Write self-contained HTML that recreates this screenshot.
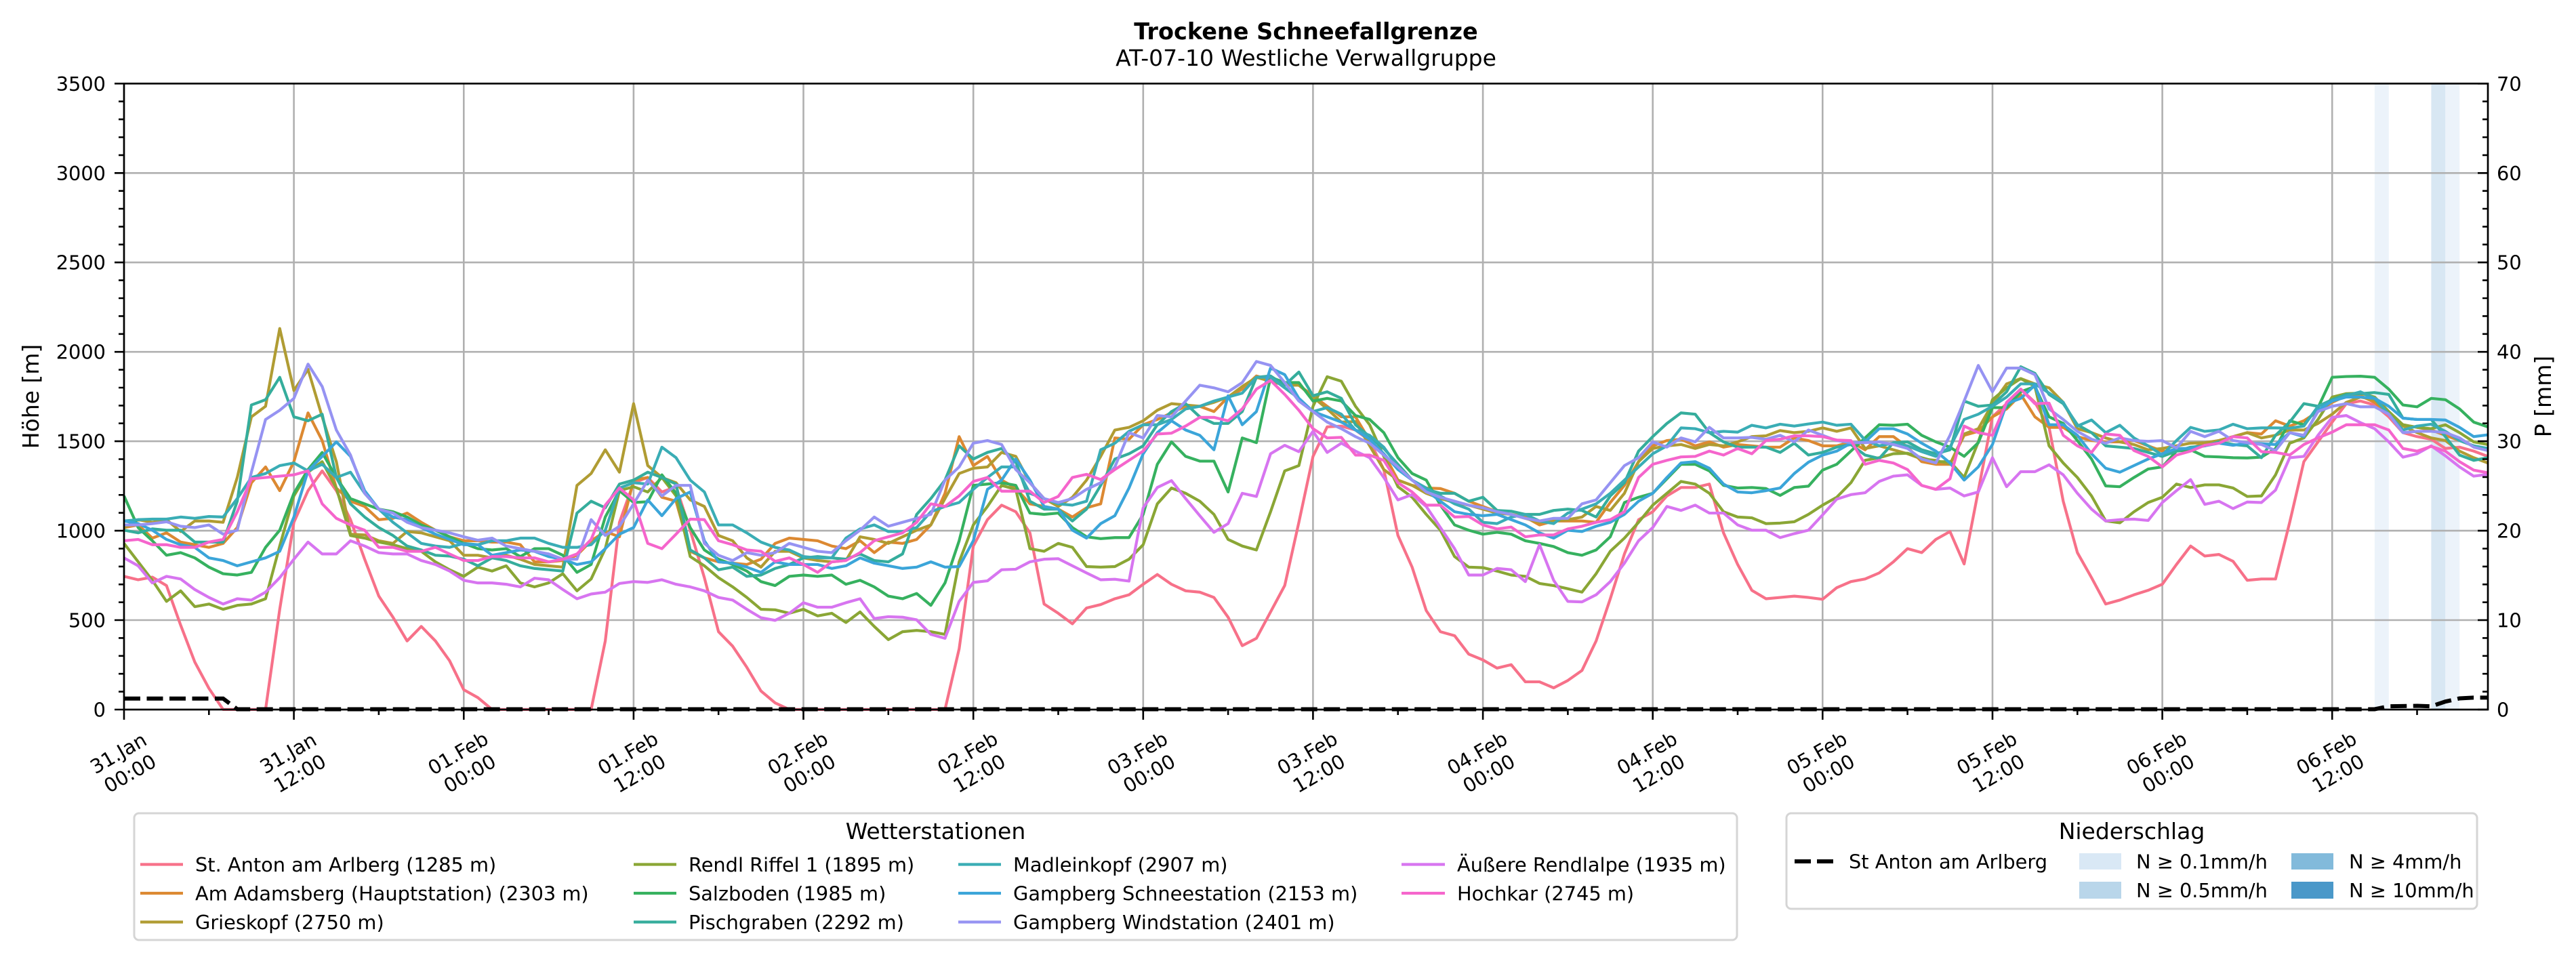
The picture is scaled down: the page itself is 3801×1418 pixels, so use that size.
<!DOCTYPE html>
<html><head><meta charset="utf-8"><style>
html,body{margin:0;padding:0;background:#fff;}
svg{display:block;font-family:"DejaVu Sans","Liberation Sans",sans-serif;}
</style></head><body>
<svg id="chart" xmlns="http://www.w3.org/2000/svg" width="3801" height="1418" viewBox="0 0 3801 1418">
<rect x="0" y="0" width="3801" height="1418" fill="#fff"/>
<!-- title -->
<text x="1927" y="58" text-anchor="middle" font-size="33.5" font-weight="bold">Trockene Schneefallgrenze</text>
<text x="1927" y="97" text-anchor="middle" font-size="33">AT-07-10 Westliche Verwallgruppe</text>

<!-- precipitation bands -->
<rect x="3503.9" y="123.3" width="20.9" height="923.7" fill="#ecf3fa"/>
<rect x="3587.4" y="123.3" width="20.9" height="923.7" fill="#d8e7f3"/>
<rect x="3608.3" y="123.3" width="20.9" height="923.7" fill="#ecf3fa"/>

<!-- grid -->
<g stroke="#b0b0b0" stroke-width="2.6" fill="none">
<path d="M183,915H3671 M183,783.1H3671 M183,651.1H3671 M183,519.2H3671 M183,387.2H3671 M183,255.3H3671"/>
<path d="M433.6,123.3V1047 M684.3,123.3V1047 M934.9,123.3V1047 M1185.5,123.3V1047 M1436.2,123.3V1047 M1686.8,123.3V1047 M1937.4,123.3V1047 M2188.1,123.3V1047 M2438.7,123.3V1047 M2689.3,123.3V1047 M2940,123.3V1047 M3190.6,123.3V1047 M3441.2,123.3V1047"/>
</g>

<g id="lines"></g>

<!-- precipitation dashed line -->
<polyline points="183,1030.7 329.2,1030.7 350.1,1046.5 3503.9,1046.5 3524.8,1042.2 3566.6,1041.5 3587.4,1042.2 3608.3,1035.2 3629.2,1030.5 3650,1029.4 3671,1029.4" fill="none" stroke="#000" stroke-width="6" stroke-dasharray="24 9.5"/>

<!-- spines -->
<rect x="183" y="123.3" width="3488" height="923.7" fill="none" stroke="#000" stroke-width="2.7"/>

<!-- ticks -->
<g stroke="#000" stroke-width="2.6" fill="none">
<path d="M169,1047H183 M169,915H183 M169,783.1H183 M169,651.1H183 M169,519.2H183 M169,387.2H183 M169,255.3H183 M169,123.3H183"/>
<path d="M175,1020.6H183 M175,994.2H183 M175,967.8H183 M175,941.4H183 M175,888.7H183 M175,862.3H183 M175,835.9H183 M175,809.5H183 M175,756.7H183 M175,730.3H183 M175,703.9H183 M175,677.5H183 M175,624.7H183 M175,598.4H183 M175,572H183 M175,545.6H183 M175,492.8H183 M175,466.4H183 M175,440H183 M175,413.6H183 M175,360.8H183 M175,334.4H183 M175,308H183 M175,281.7H183 M175,228.9H183 M175,202.5H183 M175,176.1H183 M175,149.7H183"/>
<path d="M3656,1047H3671 M3656,915H3671 M3656,783.1H3671 M3656,651.1H3671 M3656,519.2H3671 M3656,387.2H3671 M3656,255.3H3671 M3656,123.3H3671"/>
<path d="M3663,1020.6H3671 M3663,994.2H3671 M3663,967.8H3671 M3663,941.4H3671 M3663,888.7H3671 M3663,862.3H3671 M3663,835.9H3671 M3663,809.5H3671 M3663,756.7H3671 M3663,730.3H3671 M3663,703.9H3671 M3663,677.5H3671 M3663,624.7H3671 M3663,598.4H3671 M3663,572H3671 M3663,545.6H3671 M3663,492.8H3671 M3663,466.4H3671 M3663,440H3671 M3663,413.6H3671 M3663,360.8H3671 M3663,334.4H3671 M3663,308H3671 M3663,281.7H3671 M3663,228.9H3671 M3663,202.5H3671 M3663,176.1H3671 M3663,149.7H3671"/>
<path d="M183,1047V1062 M433.6,1047V1062 M684.3,1047V1062 M934.9,1047V1062 M1185.5,1047V1062 M1436.2,1047V1062 M1686.8,1047V1062 M1937.4,1047V1062 M2188.1,1047V1062 M2438.7,1047V1062 M2689.3,1047V1062 M2940,1047V1062 M3190.6,1047V1062 M3441.2,1047V1062"/>
<path d="M308.3,1047V1055 M558.9,1047V1055 M809.6,1047V1055 M1060.2,1047V1055 M1310.8,1047V1055 M1561.5,1047V1055 M1812.1,1047V1055 M2062.7,1047V1055 M2313.4,1047V1055 M2564,1047V1055 M2814.6,1047V1055 M3065.3,1047V1055 M3315.9,1047V1055 M3566.5,1047V1055"/>
</g>

<!-- y tick labels -->
<g font-size="28.8" text-anchor="end">
<text x="156" y="1057.5">0</text>
<text x="156" y="925.5">500</text>
<text x="156" y="793.6">1000</text>
<text x="156" y="661.6">1500</text>
<text x="156" y="529.7">2000</text>
<text x="156" y="397.7">2500</text>
<text x="156" y="265.8">3000</text>
<text x="156" y="133.8">3500</text>
</g>
<g font-size="28.8" text-anchor="start">
<text x="3684" y="1057.5">0</text>
<text x="3684" y="925.5">10</text>
<text x="3684" y="793.6">20</text>
<text x="3684" y="661.6">30</text>
<text x="3684" y="529.7">40</text>
<text x="3684" y="397.7">50</text>
<text x="3684" y="265.8">60</text>
<text x="3684" y="133.8">70</text>
</g>

<!-- axis labels -->
<text transform="translate(57,585) rotate(-90)" text-anchor="middle" font-size="33">Höhe [m]</text>
<text transform="translate(3764,585) rotate(-90)" text-anchor="middle" font-size="33">P [mm]</text>

<!-- x tick labels -->
<g font-size="28.8" text-anchor="middle">
<text transform="translate(183,1126) rotate(-30)"><tspan x="0" y="-6.75">31.Jan</tspan><tspan x="0" y="27.75">00:00</tspan></text>
<text transform="translate(433.6,1126) rotate(-30)"><tspan x="0" y="-6.75">31.Jan</tspan><tspan x="0" y="27.75">12:00</tspan></text>
<text transform="translate(684.3,1126) rotate(-30)"><tspan x="0" y="-6.75">01.Feb</tspan><tspan x="0" y="27.75">00:00</tspan></text>
<text transform="translate(934.9,1126) rotate(-30)"><tspan x="0" y="-6.75">01.Feb</tspan><tspan x="0" y="27.75">12:00</tspan></text>
<text transform="translate(1185.5,1126) rotate(-30)"><tspan x="0" y="-6.75">02.Feb</tspan><tspan x="0" y="27.75">00:00</tspan></text>
<text transform="translate(1436.2,1126) rotate(-30)"><tspan x="0" y="-6.75">02.Feb</tspan><tspan x="0" y="27.75">12:00</tspan></text>
<text transform="translate(1686.8,1126) rotate(-30)"><tspan x="0" y="-6.75">03.Feb</tspan><tspan x="0" y="27.75">00:00</tspan></text>
<text transform="translate(1937.4,1126) rotate(-30)"><tspan x="0" y="-6.75">03.Feb</tspan><tspan x="0" y="27.75">12:00</tspan></text>
<text transform="translate(2188.1,1126) rotate(-30)"><tspan x="0" y="-6.75">04.Feb</tspan><tspan x="0" y="27.75">00:00</tspan></text>
<text transform="translate(2438.7,1126) rotate(-30)"><tspan x="0" y="-6.75">04.Feb</tspan><tspan x="0" y="27.75">12:00</tspan></text>
<text transform="translate(2689.3,1126) rotate(-30)"><tspan x="0" y="-6.75">05.Feb</tspan><tspan x="0" y="27.75">00:00</tspan></text>
<text transform="translate(2940,1126) rotate(-30)"><tspan x="0" y="-6.75">05.Feb</tspan><tspan x="0" y="27.75">12:00</tspan></text>
<text transform="translate(3190.6,1126) rotate(-30)"><tspan x="0" y="-6.75">06.Feb</tspan><tspan x="0" y="27.75">00:00</tspan></text>
<text transform="translate(3441.2,1126) rotate(-30)"><tspan x="0" y="-6.75">06.Feb</tspan><tspan x="0" y="27.75">12:00</tspan></text>
</g>

<!-- legend 1 -->
<rect x="198" y="1200" width="2365" height="187" rx="7" fill="#fff" stroke="#d5d5d5" stroke-width="3"/>
<text x="1380.5" y="1238" text-anchor="middle" font-size="33">Wetterstationen</text>
<g stroke-width="4.2">
<line x1="207" y1="1275.5" x2="270" y2="1275.5" stroke="#f77189"/>
<line x1="207" y1="1318" x2="270" y2="1318" stroke="#dc8932"/>
<line x1="207" y1="1360.5" x2="270" y2="1360.5" stroke="#b09c33"/>
<line x1="935" y1="1275.5" x2="998" y2="1275.5" stroke="#8aa635"/>
<line x1="935" y1="1318" x2="998" y2="1318" stroke="#36b15f"/>
<line x1="935" y1="1360.5" x2="998" y2="1360.5" stroke="#35ad9c"/>
<line x1="1414" y1="1275.5" x2="1477" y2="1275.5" stroke="#3aadb5"/>
<line x1="1414" y1="1318" x2="1477" y2="1318" stroke="#3ba5d9"/>
<line x1="1414" y1="1360.5" x2="1477" y2="1360.5" stroke="#9693f2"/>
<line x1="2068" y1="1275.5" x2="2132" y2="1275.5" stroke="#d775f0"/>
<line x1="2068" y1="1318" x2="2132" y2="1318" stroke="#f565cc"/>
</g>
<g font-size="28.8">
<text x="288" y="1286">St. Anton am Arlberg (1285 m)</text>
<text x="288" y="1328.5">Am Adamsberg (Hauptstation) (2303 m)</text>
<text x="288" y="1371">Grieskopf (2750 m)</text>
<text x="1016" y="1286">Rendl Riffel 1 (1895 m)</text>
<text x="1016" y="1328.5">Salzboden (1985 m)</text>
<text x="1016" y="1371">Pischgraben (2292 m)</text>
<text x="1495" y="1286">Madleinkopf (2907 m)</text>
<text x="1495" y="1328.5">Gampberg Schneestation (2153 m)</text>
<text x="1495" y="1371">Gampberg Windstation (2401 m)</text>
<text x="2150" y="1286">Äußere Rendlalpe (1935 m)</text>
<text x="2150" y="1328.5">Hochkar (2745 m)</text>
</g>

<!-- legend 2 -->
<rect x="2636" y="1200" width="1019" height="141" rx="7" fill="#fff" stroke="#d5d5d5" stroke-width="3"/>
<text x="3145.5" y="1238" text-anchor="middle" font-size="33">Niederschlag</text>
<line x1="2648" y1="1271" x2="2705" y2="1271" stroke="#000" stroke-width="6" stroke-dasharray="24 9"/>
<rect x="3068" y="1259" width="62" height="24" fill="#d9e8f5"/>
<rect x="3068" y="1301" width="62" height="25" fill="#b9d6ea"/>
<rect x="3381" y="1259" width="62" height="24" fill="#82badb"/>
<rect x="3381" y="1301" width="62" height="25" fill="#4a98c9"/>
<g font-size="28.8">
<text x="2728" y="1281.5">St Anton am Arlberg</text>
<text x="3152" y="1281.5">N ≥ 0.1mm/h</text>
<text x="3152" y="1324">N ≥ 0.5mm/h</text>
<text x="3466" y="1281.5">N ≥ 4mm/h</text>
<text x="3466" y="1324">N ≥ 10mm/h</text>
</g>
</svg>
<script>
(function(){
var S=[
['#f77189',[1055,1068,1058,1090,1240,1380,1480,1560,1560,1560,1560,1180,850,730,655,730,840,990,1130,1210,1300,1245,1300,1375,1485,1515,1560,1560,1560,
1560,1560,1560,1560,1560,1300,850,700,680,735,715,880,1060,1265,1320,1400,1490,1535,1560,1560,1560,1560,1560,1560,1560,1560,1560,
1560,1560,1560,1330,940,840,785,810,890,1160,1195,1235,1175,1162,1140,1125,1085,1048,1085,1110,1115,1135,1210,1318,1290,1190,1090,850,600,
488,485,500,540,650,900,1020,1185,1265,1280,1350,1372,1403,1390,1455,1455,1478,1450,1412,1300,1140,970,840,810,750,718,718,705,
890,1010,1108,1140,1135,1130,1135,1142,1098,1075,1065,1042,1000,950,965,915,885,1008,730,450,400,345,395,490,770,965,1060,
1160,1145,1125,1108,1085,1010,940,978,972,998,1070,1065,1065,850,620,545,470,400,390,405,450,510,525,535,570,565,580,600]],
['#dc8932',[870,860,910,890,925,935,945,930,870,700,640,730,620,435,540,720,770,790,840,835,815,850,880,905,920,920,925,925,935,
1000,1000,995,975,920,885,905,690,680,755,770,960,985,1000,1005,1010,990,930,910,915,920,940,950,920,965,925,930,
915,860,740,525,635,600,690,720,780,790,800,830,795,780,530,535,480,460,435,410,410,430,375,345,295,310,330,330,370,
410,450,450,540,590,690,710,720,722,740,770,790,810,820,830,860,845,845,845,850,775,710,620,560,540,535,560,545,
565,555,560,565,565,530,540,560,560,545,575,525,525,565,620,630,630,520,505,450,420,365,450,490,490,525,540,
545,545,540,560,580,580,570,550,540,525,510,515,465,485,465,430,395,370,370,395,440,480,490,500,520,540,560,575]],
['#b09c33',[870,840,850,840,885,845,845,850,680,450,410,115,350,270,450,620,895,898,920,930,885,890,905,920,975,975,985,975,990,
1010,1015,1020,710,665,575,660,400,635,680,700,765,790,900,920,985,1020,960,960,985,995,1000,995,905,915,930,905,
880,860,760,665,645,640,585,600,700,760,790,755,690,600,500,490,465,425,400,405,410,395,375,335,300,315,330,330,375,
420,470,468,560,650,690,710,740,760,775,785,800,815,820,835,850,845,840,830,790,805,740,620,570,560,555,570,555,
560,545,525,522,502,510,505,492,505,492,570,560,575,590,610,615,630,515,495,400,325,305,325,340,395,495,510,
530,545,555,575,570,560,550,548,540,525,510,530,520,500,500,475,440,395,375,385,440,485,510,530,540,580,605,625]],
['#8aa635',[930,1000,1070,1150,1110,1170,1160,1180,1165,1160,1140,940,750,660,620,720,900,910,925,935,950,960,1000,1030,1055,1020,1035,1015,1080,
1095,1080,1045,1110,1065,950,730,715,735,680,750,980,1015,1060,1095,1135,1180,1182,1195,1180,1205,1195,1230,1190,1245,1295,1265,
1260,1265,1275,1000,860,790,710,725,950,960,930,945,1018,1020,1018,990,935,780,720,740,770,820,915,940,955,810,655,635,410,
298,315,410,480,600,715,755,820,880,980,1020,1022,1035,1050,1055,1082,1090,1102,1115,1045,960,910,850,785,740,695,705,740,
810,830,833,855,853,848,820,785,755,700,615,605,590,588,605,620,620,680,545,385,340,305,335,560,625,680,750,
845,852,810,775,755,705,718,708,708,720,752,750,670,550,530,460,375,362,360,375,430,480,490,495,480,510,545,555]],
['#36b15f',[750,870,920,975,965,985,1020,1045,1050,1040,945,880,740,650,585,680,760,780,800,810,830,860,880,905,930,950,955,950,980,
950,950,975,1040,1010,830,730,775,772,670,740,870,955,990,1010,1035,1075,1090,1055,1050,1055,1050,1085,1070,1095,1130,1140,
1120,1165,1080,920,710,705,700,710,815,820,815,870,905,912,908,908,820,630,545,600,618,618,735,530,548,300,320,320,390,
380,390,445,460,510,605,665,690,785,860,880,895,888,895,920,930,942,965,975,955,905,775,755,740,685,630,630,655,
710,720,718,722,748,718,713,652,630,580,530,480,482,478,520,545,565,600,548,415,415,355,335,450,475,540,610,
712,715,680,648,640,580,575,600,602,605,606,603,570,465,480,415,300,297,296,300,345,405,412,380,385,420,470,488]],
['#35ad9c',[880,890,875,880,880,925,925,925,770,405,385,300,450,465,440,680,780,830,870,900,940,955,975,978,990,1015,985,995,1015,
1025,1030,1035,815,770,795,705,690,660,680,705,955,985,1030,1020,1055,1050,1025,1010,985,980,985,990,970,995,1000,970,
820,760,690,560,610,585,570,620,770,800,800,845,800,710,610,590,560,480,430,400,450,475,475,430,300,295,330,280,370,
355,380,480,525,570,630,690,725,740,740,770,755,805,808,820,820,805,800,805,830,750,700,580,525,475,435,440,510,
545,565,565,565,585,550,595,585,565,555,595,608,548,545,575,590,575,390,410,405,355,260,285,365,400,480,510,
560,565,570,585,600,580,565,560,545,555,560,605,520,470,400,410,385,365,362,358,365,455,460,460,525,595,615,605]],
['#3aadb5',[845,840,838,838,830,835,828,830,760,680,665,635,625,655,630,680,660,740,800,850,890,930,940,945,930,935,920,920,910,
910,930,945,945,935,880,720,700,705,565,605,690,735,860,860,890,925,945,955,980,985,985,910,875,860,885,885,
870,810,790,775,725,680,640,640,740,760,780,785,770,575,550,505,480,480,460,420,410,390,375,360,300,300,340,380,430,
415,440,500,520,565,640,690,720,750,780,800,850,855,830,820,845,855,815,800,780,740,690,640,590,560,492,495,510,
505,508,482,492,478,485,477,470,482,478,538,560,550,560,582,600,565,460,440,410,375,325,325,360,395,485,462,
510,482,530,560,595,540,490,505,500,478,495,492,492,493,485,410,390,370,355,380,440,500,485,478,505,540,560,570]],
['#3ba5d9',[845,855,880,915,935,945,985,995,1015,1000,985,960,830,655,600,545,600,730,800,830,840,870,895,915,935,935,975,965,955,
960,980,990,1010,1000,950,895,870,765,825,760,735,920,1000,1005,1020,1040,1000,1010,1010,1010,1025,1015,985,1005,1015,1025,
1020,1000,1020,1018,920,725,690,610,690,790,800,880,910,855,825,720,590,510,465,500,520,575,370,480,430,265,290,380,430,
450,470,500,535,590,650,690,730,770,810,820,825,820,840,860,890,910,880,885,865,850,820,770,740,680,625,620,645,
705,735,738,730,720,665,622,595,580,550,545,495,495,515,550,580,625,690,640,555,400,380,330,480,480,520,590,
645,660,635,610,590,570,570,560,550,558,550,552,555,510,525,425,390,375,375,380,410,455,460,460,462,490,525,518]],
['#9693f2',[860,860,855,848,865,870,860,895,880,660,460,425,380,250,335,500,595,740,800,815,850,870,880,890,905,918,910,940,950,
960,970,990,990,840,900,865,780,690,750,710,710,930,975,995,965,975,965,930,945,960,965,920,880,830,865,850,
835,820,690,640,550,540,555,650,700,760,775,760,725,700,640,510,530,445,450,390,330,340,355,320,240,255,320,390,430,
470,495,525,550,595,640,690,735,755,770,785,795,810,820,835,845,835,835,780,765,700,635,605,545,565,530,545,490,
530,530,528,535,520,545,500,520,540,548,548,545,555,570,610,625,520,390,255,355,265,265,290,420,460,505,535,
550,530,540,543,540,568,505,525,505,540,548,555,578,510,520,430,410,400,412,412,440,510,505,505,510,530,565,578]],
['#d775f0',[985,1015,1080,1055,1065,1105,1135,1160,1140,1145,1115,1060,990,925,970,970,920,940,965,970,970,995,1010,1035,1070,1080,1080,1085,1095,
1062,1068,1105,1140,1122,1115,1082,1075,1078,1068,1085,1095,1110,1135,1145,1180,1212,1222,1195,1155,1172,1172,1155,1140,1215,1208,1210,
1220,1275,1290,1150,1078,1072,1030,1028,1000,990,988,1015,1042,1068,1066,1073,795,718,692,760,825,888,855,740,752,590,558,582,505,
585,550,580,605,680,765,745,790,870,950,1050,1050,1025,1030,1075,935,1070,1150,1152,1125,1075,1005,920,870,790,805,785,815,
815,860,880,880,908,893,880,822,762,745,738,695,675,670,710,725,720,750,735,605,715,658,658,632,670,740,800,
845,840,838,843,775,730,688,782,770,798,773,775,728,605,600,520,452,445,472,495,545,603,590,560,598,640,675,668]],
['#f565cc',[920,915,935,935,945,945,925,915,810,685,680,675,670,655,780,835,860,880,945,945,960,960,945,970,995,995,980,980,985,
985,1000,990,970,915,785,720,765,930,950,895,838,840,920,935,955,960,998,985,1010,1040,1000,995,965,920,905,890,
850,780,790,750,695,680,732,732,732,775,752,680,668,688,650,615,580,515,512,485,452,452,465,420,345,312,365,425,495,
530,528,595,595,615,700,735,785,785,830,828,860,875,868,905,898,898,875,865,850,840,810,680,630,615,602,600,580,
595,570,590,540,535,522,522,525,538,540,630,615,625,650,710,725,685,485,510,520,395,345,400,398,520,560,585,
515,520,578,600,640,595,580,558,550,525,530,582,585,595,555,530,508,480,480,480,500,570,580,562,580,620,652,662]]
];
var ns="http://www.w3.org/2000/svg",g=document.getElementById('lines');
S.forEach(function(s){
  var pts=s[1].map(function(v,i){return (183+i*20.886).toFixed(2)+','+(440+v/2.5705).toFixed(2);}).join(' ');
  var p=document.createElementNS(ns,'polyline');
  p.setAttribute('points',pts);p.setAttribute('fill','none');p.setAttribute('stroke',s[0]);
  p.setAttribute('stroke-width','4.2');p.setAttribute('stroke-linejoin','round');
  g.appendChild(p);
});
})();
</script>
</body></html>
